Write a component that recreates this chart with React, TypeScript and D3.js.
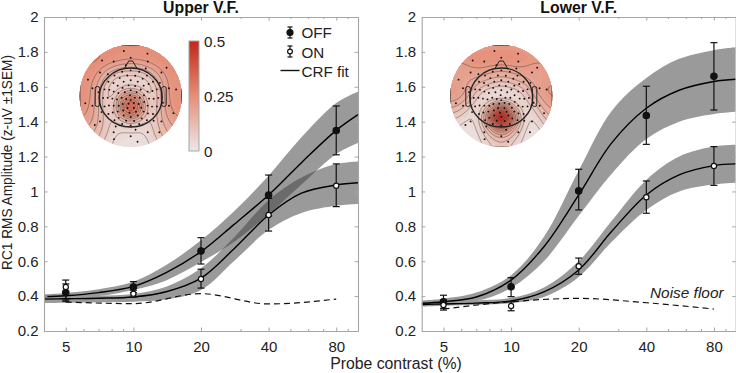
import React, { useEffect, useRef } from "react";
import * as d3 from "d3";

const contrasts = [5, 10, 20, 40, 80];
const minorTicks = [6, 7, 8, 9, 30, 50, 60, 70, 90];
const yTicks = [0.2, 0.4, 0.6, 0.8, 1, 1.2, 1.4, 1.6, 1.8, 2];
const fitContrasts = [4, 5, 7, 10, 14, 20, 28, 40, 56, 80, 100];

// Upper visual field
const upperOff = [0.42, 0.452, 0.659, 0.98, 1.349];
const upperOffLo = [0.37, 0.42, 0.584, 0.86, 1.21];
const upperOffHi = [0.47, 0.483, 0.735, 1.094, 1.49];
const upperOn = [0.452, 0.414, 0.498, 0.865, 1.033];
const upperOnLo = [0.378, 0.394, 0.446, 0.773, 0.913];
const upperOnHi = [0.492, 0.434, 0.554, 0.96, 1.158];
const upperNoise = [0.366, 0.357, 0.414, 0.355, 0.383];
const upperOffFit = [0.397, 0.402, 0.42, 0.456, 0.535, 0.655, 0.81, 0.98, 1.165, 1.35, 1.44];
const upperOffBandHi = [0.41, 0.418, 0.44, 0.483, 0.578, 0.72, 0.885, 1.09, 1.31, 1.507, 1.572];
const upperOffBandLo = [0.375, 0.385, 0.4, 0.435, 0.49, 0.595, 0.71, 0.87, 1.04, 1.215, 1.278];
const upperOnFit = [0.383, 0.385, 0.388, 0.395, 0.425, 0.503, 0.67, 0.865, 0.99, 1.037, 1.05];
const upperOnBandHi = [0.398, 0.4, 0.403, 0.412, 0.454, 0.56, 0.735, 0.95, 1.08, 1.157, 1.172];
const upperOnBandLo = [0.36, 0.362, 0.365, 0.368, 0.38, 0.435, 0.6, 0.78, 0.877, 0.918, 0.928];

// Lower visual field
const lowerOff = [0.368, 0.454, 1.003, 1.435, 1.66];
const lowerOffLo = [0.33, 0.397, 0.894, 1.27, 1.467];
const lowerOffHi = [0.405, 0.506, 1.127, 1.603, 1.853];
const lowerOn = [0.349, 0.343, 0.571, 0.967, 1.146];
const lowerOnLo = [0.32, 0.316, 0.525, 0.875, 1.035];
const lowerOnHi = [0.378, 0.368, 0.618, 1.06, 1.257];
const lowerNoise = [0.326, 0.368, 0.387, 0.362, 0.326];
const lowerOffFit = [0.359, 0.368, 0.395, 0.492, 0.683, 0.98, 1.277, 1.477, 1.58, 1.63, 1.643];
const lowerOffBandHi = [0.375, 0.385, 0.42, 0.52, 0.74, 1.12, 1.46, 1.65, 1.76, 1.81, 1.826];
const lowerOffBandLo = [0.345, 0.355, 0.37, 0.447, 0.6, 0.86, 1.1, 1.3, 1.4, 1.444, 1.457];
const lowerOnFit = [0.352, 0.355, 0.36, 0.372, 0.424, 0.55, 0.77, 0.98, 1.095, 1.148, 1.158];
const lowerOnBandHi = [0.365, 0.37, 0.375, 0.39, 0.45, 0.6, 0.83, 1.066, 1.2, 1.257, 1.267];
const lowerOnBandLo = [0.34, 0.345, 0.35, 0.36, 0.395, 0.51, 0.71, 0.894, 1.0, 1.04, 1.05];

const upperMap = [
  [0.25, 0.25, 0.25, 0.25, 0.25, 0.25, 0.25, 0.25, 0.25, 0.25, 0.25, 0.25, 0.25],
  [0.27, 0.27, 0.27, 0.26, 0.26, 0.25, 0.25, 0.25, 0.25, 0.26, 0.26, 0.27, 0.27],
  [0.26, 0.26, 0.25, 0.23, 0.21, 0.19, 0.18, 0.19, 0.21, 0.23, 0.25, 0.26, 0.26],
  [0.25, 0.25, 0.22, 0.17, 0.12, 0.1, 0.1, 0.1, 0.13, 0.18, 0.22, 0.25, 0.25],
  [0.25, 0.24, 0.19, 0.11, 0.06, 0.05, 0.05, 0.05, 0.07, 0.12, 0.2, 0.24, 0.25],
  [0.25, 0.23, 0.16, 0.08, 0.05, 0.08, 0.1, 0.08, 0.05, 0.09, 0.18, 0.24, 0.25],
  [0.25, 0.23, 0.15, 0.07, 0.08, 0.22, 0.28, 0.22, 0.08, 0.08, 0.17, 0.24, 0.25],
  [0.25, 0.22, 0.15, 0.07, 0.11, 0.32, 0.42, 0.32, 0.11, 0.08, 0.17, 0.23, 0.25],
  [0.24, 0.21, 0.15, 0.08, 0.1, 0.29, 0.4, 0.29, 0.1, 0.09, 0.17, 0.22, 0.24],
  [0.22, 0.2, 0.15, 0.09, 0.08, 0.13, 0.18, 0.13, 0.08, 0.09, 0.16, 0.2, 0.22],
  [0.2, 0.18, 0.14, 0.09, 0.06, 0.06, 0.07, 0.06, 0.06, 0.09, 0.14, 0.18, 0.2],
  [0.18, 0.16, 0.12, 0.08, 0.05, 0.04, 0.04, 0.04, 0.05, 0.08, 0.12, 0.16, 0.18],
  [0.16, 0.14, 0.1, 0.06, 0.04, 0.03, 0.03, 0.03, 0.04, 0.06, 0.1, 0.14, 0.16],
];
const lowerMap = [
  [0.22, 0.22, 0.22, 0.22, 0.23, 0.23, 0.23, 0.23, 0.23, 0.22, 0.22, 0.22, 0.22],
  [0.24, 0.24, 0.25, 0.26, 0.26, 0.26, 0.26, 0.26, 0.26, 0.25, 0.24, 0.24, 0.24],
  [0.22, 0.22, 0.23, 0.24, 0.24, 0.23, 0.23, 0.23, 0.24, 0.23, 0.22, 0.22, 0.22],
  [0.2, 0.2, 0.21, 0.21, 0.2, 0.19, 0.18, 0.19, 0.2, 0.21, 0.21, 0.21, 0.21],
  [0.21, 0.2, 0.19, 0.18, 0.16, 0.14, 0.13, 0.14, 0.16, 0.18, 0.2, 0.21, 0.22],
  [0.22, 0.21, 0.18, 0.13, 0.09, 0.07, 0.06, 0.07, 0.09, 0.13, 0.18, 0.22, 0.23],
  [0.22, 0.2, 0.15, 0.08, 0.04, 0.03, 0.03, 0.03, 0.04, 0.08, 0.15, 0.2, 0.23],
  [0.18, 0.15, 0.1, 0.05, 0.06, 0.13, 0.18, 0.13, 0.06, 0.05, 0.1, 0.16, 0.21],
  [0.13, 0.1, 0.06, 0.05, 0.14, 0.36, 0.52, 0.36, 0.14, 0.05, 0.06, 0.12, 0.18],
  [0.08, 0.06, 0.04, 0.06, 0.2, 0.45, 0.62, 0.45, 0.2, 0.06, 0.04, 0.08, 0.14],
  [0.05, 0.04, 0.03, 0.05, 0.13, 0.25, 0.34, 0.25, 0.13, 0.05, 0.03, 0.05, 0.1],
  [0.04, 0.03, 0.02, 0.04, 0.09, 0.15, 0.18, 0.15, 0.09, 0.04, 0.02, 0.04, 0.07],
  [0.03, 0.02, 0.02, 0.03, 0.06, 0.09, 0.11, 0.09, 0.06, 0.03, 0.02, 0.03, 0.05],
];

// sensor net: ring radius (1 = map edge) and sensors on that ring
const ringRadii = [0, 0.09, 0.18, 0.27, 0.36, 0.45, 0.54, 0.64, 0.77, 0.9];
const ringCounts = [1, 5, 9, 13, 16, 18, 20, 10, 14, 12];

const colorStops = ["#ebe8e8", "#e58f78", "#c1271a"];
const FONT = '"Liberation Sans", Arial, sans-serif';
const GRAY = "#a6a6a6";
const BAND = "#9a9a9a";
const OVERLAP = "#6b6b6b";

const color = d3.scaleLinear<string>().domain([0, 0.25, 0.5]).range(colorStops).clamp(true);

function Axes({ x, y }: any) {
  const ref = useRef<SVGGElement>(null);
  useEffect(() => {
    const g = d3.select(ref.current);
    g.selectAll("*").remove();
    const [x0, x1] = x.range();
    const [y0, y1] = y.range();
    const add = (axis: any, tx: number, ty: number, labels: boolean) => {
      const a = g.append("g").attr("transform", `translate(${tx},${ty})`).call(axis);
      a.select(".domain").attr("stroke", GRAY).attr("stroke-width", 1.1);
      a.selectAll(".tick line").attr("stroke", GRAY);
      a.selectAll("text")
        .attr("fill", labels ? "#222" : "none")
        .attr("font-family", FONT)
        .attr("font-size", 15);
      return a;
    };
    add(d3.axisBottom(x).tickValues(contrasts).tickFormat(String as any).tickSize(-3.5).tickSizeOuter(0).tickPadding(10), 0, y0, true);
    add(d3.axisBottom(x).tickValues(minorTicks).tickFormat(() => "").tickSize(-2).tickSizeOuter(0), 0, y0, false);
    add(d3.axisTop(x).tickValues(contrasts).tickFormat(() => "").tickSize(-3.5).tickSizeOuter(0), 0, y1, false);
    add(d3.axisTop(x).tickValues(minorTicks).tickFormat(() => "").tickSize(-2).tickSizeOuter(0), 0, y1, false);
    add(d3.axisLeft(y).tickValues(yTicks).tickFormat(String as any).tickSize(-3.5).tickSizeOuter(0).tickPadding(5.5), x0, 0, true);
    add(d3.axisRight(y).tickValues(yTicks).tickFormat(() => "").tickSize(-3.5).tickSizeOuter(0), x1, 0, false);
  }, [x, y]);
  return <g ref={ref} />;
}

function ScalpMap({ grid, cx, cy, id }: any) {
  const R = 51;
  const up = 6;
  const n = grid.length;
  const size = n * up;
  // enlarge the read grid and blur it so the contours come out round
  const cells = new Float64Array(size * size);
  grid.forEach((row: number[], r: number) =>
    row.forEach((v, c) => {
      for (let i = 0; i < up; i++) for (let j = 0; j < up; j++) cells[(r * up + i) * size + c * up + j] = v;
    })
  );
  d3.blur2({ data: cells, width: size, height: size }, 3);
  const fillLevels = d3.range(0, 0.56, 0.0125);
  const lineLevels = d3.range(0.05, 0.56, 0.035);
  const contour = d3.contours().size([size, size]);
  const k = (2 * R) / size;
  const geo = d3.geoPath(d3.geoTransform({
    point(px: number, py: number) {
      (this as any).stream.point(cx - R + px * k, cy - R + py * k);
    },
  }));
  const sx = d3.scaleLinear().domain([-1, 1]).range([cx - R, cx + R]);
  const sy = d3.scaleLinear().domain([-1, 1]).range([cy + R, cy - R]);
  const sensors = ringRadii.flatMap((rad, i) =>
    d3.range(ringCounts[i]).map((j) => {
      const a = Math.PI / 2 + (2 * Math.PI * j) / ringCounts[i] + (i % 2 ? 0.15 : 0);
      return [rad * Math.cos(a), rad * Math.sin(a) - 0.08 * (1 - rad)];
    })
  );
  const hx = sx(0);
  const hy = sy(-0.03);
  const rx = 31.5;
  const ry = 29.5;
  const line = d3.line();
  return (
    <g>
      <clipPath id={id}><circle cx={cx} cy={cy} r={R} /></clipPath>
      <g clipPath={`url(#${id})`}>
        <circle cx={cx} cy={cy} r={R} fill={color(0)} />
        {fillLevels.map((t) => (
          <path key={t} d={geo(contour.contour(cells as any, t)) || ""} fill={color(t)} />
        ))}
        {lineLevels.map((t) => (
          <path key={t} d={geo(contour.contour(cells as any, t)) || ""} fill="none" stroke="#444" strokeWidth={0.45} />
        ))}
        {sensors.map(([a, b], i) => (
          <circle key={i} cx={sx(a)} cy={sy(b)} r={0.95} fill="#111" />
        ))}
      </g>
      <g fill="none" stroke="#222">
        <ellipse cx={hx} cy={hy} rx={rx} ry={ry} strokeWidth={1.4} />
        <path
          strokeWidth={1}
          d={line([[hx - 6, hy - ry], [hx - 2, hy - ry - 7], [hx + 2, hy - ry - 7], [hx + 6, hy - ry]]) || ""}
        />
        <rect x={hx - rx - 4} y={hy - 11} width={4.5} height={20} rx={2} strokeWidth={1} />
        <rect x={hx + rx - 0.5} y={hy - 11} width={4.5} height={20} rx={2} strokeWidth={1} />
      </g>
    </g>
  );
}

function ErrorPoints({ x, y, values, lo, hi, open }: any) {
  return (
    <g>
      {contrasts.map((c, i) => (
        <g key={c} stroke="#111" strokeWidth={1.2}>
          <line x1={x(c)} x2={x(c)} y1={y(lo[i])} y2={y(hi[i])} />
          <line x1={x(c) - 3.5} x2={x(c) + 3.5} y1={y(lo[i])} y2={y(lo[i])} />
          <line x1={x(c) - 3.5} x2={x(c) + 3.5} y1={y(hi[i])} y2={y(hi[i])} />
          <circle cx={x(c)} cy={y(values[i])} r={open ? 2.6 : 3.2} fill={open ? "#fff" : "#111"} />
        </g>
      ))}
    </g>
  );
}

function Panel({ id, title, x0, x1, d, showOverlap, children }: any) {
  const x = d3.scaleLog().domain([4, 100]).range([x0, x1]);
  const y = d3.scaleLinear().domain([0.2, 2]).range([331, 17]);
  const fitLine = d3.line<number>()
    .x((_, i) => x(fitContrasts[i]))
    .y((v) => y(v))
    .curve(d3.curveCatmullRom.alpha(0.5));
  const band = (lo: number[], hi: number[]) =>
    d3.area<number>()
      .x((c) => x(c))
      .y0((_, i) => y(lo[i]))
      .y1((_, i) => y(hi[i]))
      .curve(d3.curveCatmullRom.alpha(0.5))(fitContrasts) || "";
  const noiseLine = d3.line<number>()
    .x((_, i) => x(contrasts[i]))
    .y((v) => y(v))
    .curve(d3.curveMonotoneX);
  return (
    <g>
      <clipPath id={`${id}-box`}><rect x={x0} y={17} width={x1 - x0} height={314} /></clipPath>
      <clipPath id={`${id}-off`}><path d={band(d.offBandLo, d.offBandHi)} /></clipPath>
      <clipPath id={`${id}-range`}><rect x={x(22)} y={17} width={x(72) - x(22)} height={314} /></clipPath>
      <g clipPath={`url(#${id}-box)`}>
        <path d={band(d.offBandLo, d.offBandHi)} fill={BAND} />
        <path d={band(d.onBandLo, d.onBandHi)} fill={BAND} />
        {showOverlap && (
          <g clipPath={`url(#${id}-range)`}>
            <path d={band(d.onBandLo, d.onBandHi)} fill={OVERLAP} clipPath={`url(#${id}-off)`} />
          </g>
        )}
        <path d={noiseLine(d.noise) || ""} fill="none" stroke="#111" strokeWidth={1.2} strokeDasharray="6 4" />
        <path d={fitLine(d.offFit) || ""} fill="none" stroke="#000" strokeWidth={1.4} />
        <path d={fitLine(d.onFit) || ""} fill="none" stroke="#000" strokeWidth={1.4} />
      </g>
      <ErrorPoints x={x} y={y} values={d.off} lo={d.offLo} hi={d.offHi} />
      <ErrorPoints x={x} y={y} values={d.on} lo={d.onLo} hi={d.onHi} open />
      <Axes x={x} y={y} />
      <text x={(x0 + x1) / 2} y={12.5} textAnchor="middle" fontFamily={FONT} fontWeight="bold" fontSize={15.8} fill="#111">
        {title}
      </text>
      {children}
    </g>
  );
}

export default function App() {
  const barY = d3.scaleLinear().domain([0, 0.5]).range([151, 41]);
  const legendText = { fontFamily: FONT, fontSize: 15.2, fill: "#222" };
  return (
    <svg width={736} height={373} style={{ position: "absolute", left: 0, top: 0 }}>
      <defs>
        <linearGradient id="bar" x1="0" x2="0" y1="1" y2="0">
          <stop offset="0%" stopColor={colorStops[0]} />
          <stop offset="50%" stopColor={colorStops[1]} />
          <stop offset="100%" stopColor={colorStops[2]} />
        </linearGradient>
      </defs>
      <Panel
        id="upper" title="Upper V.F." x0={44} x1={358} showOverlap
        d={{
          off: upperOff, offLo: upperOffLo, offHi: upperOffHi, on: upperOn, onLo: upperOnLo, onHi: upperOnHi,
          noise: upperNoise, offFit: upperOffFit, offBandHi: upperOffBandHi, offBandLo: upperOffBandLo,
          onFit: upperOnFit, onBandHi: upperOnBandHi, onBandLo: upperOnBandLo,
        }}
      >
        <ScalpMap grid={upperMap} cx={130.7} cy={96} id="map-upper" />
        <rect x={189} y={barY(0.5)} width={10} height={barY(0) - barY(0.5)} fill="url(#bar)" stroke={GRAY} strokeWidth={1} />
        {[0.5, 0.25, 0].map((v) => (
          <text key={v} x={204} y={barY(v) + 5.7} {...legendText}>{v}</text>
        ))}
        <g stroke="#111" strokeWidth={1.2}>
          <line x1={290} x2={290} y1={27} y2={38} />
          <line x1={287.5} x2={292.5} y1={27} y2={27} />
          <line x1={287.5} x2={292.5} y1={38} y2={38} />
          <circle cx={290} cy={32.5} r={3} fill="#111" />
          <line x1={290} x2={290} y1={46} y2={57} />
          <line x1={287.5} x2={292.5} y1={46} y2={46} />
          <line x1={287.5} x2={292.5} y1={57} y2={57} />
          <circle cx={290} cy={51.5} r={2.4} fill="#fff" />
          <line x1={280.5} x2={299.5} y1={70.5} y2={70.5} strokeWidth={1.4} />
        </g>
        <text x={301.5} y={38.3} {...legendText}>OFF</text>
        <text x={301.5} y={57.5} {...legendText}>ON</text>
        <text x={301.5} y={76.5} {...legendText}>CRF fit</text>
      </Panel>
      <Panel
        id="lower" title="Lower V.F." x0={421.7} x1={735.7}
        d={{
          off: lowerOff, offLo: lowerOffLo, offHi: lowerOffHi, on: lowerOn, onLo: lowerOnLo, onHi: lowerOnHi,
          noise: lowerNoise, offFit: lowerOffFit, offBandHi: lowerOffBandHi, offBandLo: lowerOffBandLo,
          onFit: lowerOnFit, onBandHi: lowerOnBandHi, onBandLo: lowerOnBandLo,
        }}
      >
        <ScalpMap grid={lowerMap} cx={501.3} cy={96} id="map-lower" />
        <text x={650} y={298} fontFamily={FONT} fontStyle="italic" fontSize={15.4} fill="#222">Noise floor</text>
      </Panel>
      <text
        transform="translate(12,162.5) rotate(-90)" textAnchor="middle"
        fontFamily={FONT} fontSize={14.5} fill="#222" textLength={215} lengthAdjust="spacingAndGlyphs"
      >
        RC1 RMS Amplitude (z-uV ±1SEM)
      </text>
      <text x={396} y={369} textAnchor="middle" fontFamily={FONT} fontSize={15.8} fill="#222">
        Probe contrast (%)
      </text>
    </svg>
  );
}
